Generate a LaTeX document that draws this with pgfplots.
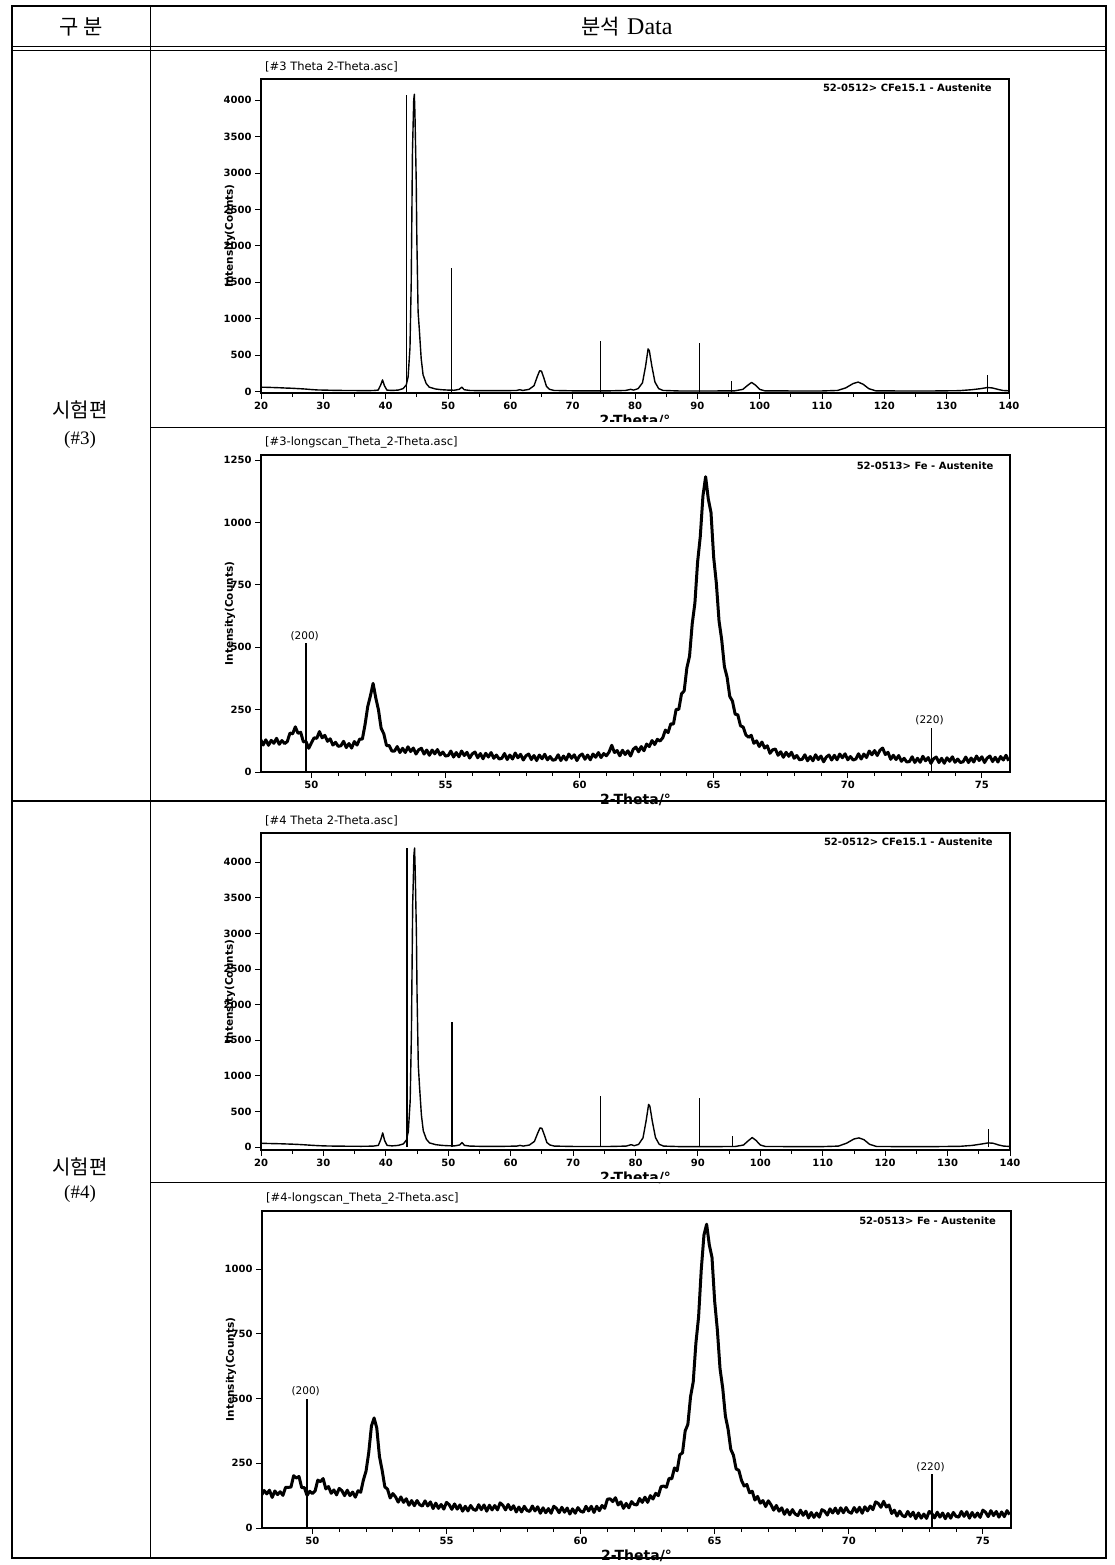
\documentclass[border=0pt]{standalone}
\usepackage{fontspec}
\setmainfont{DejaVu Sans}
\newfontfamily\kr{Noto Sans CJK KR}
\newfontfamily\ser{Liberation Serif}
\usepackage{pgfplots}
\pgfplotsset{compat=1.18}
\pgfplotsset{
  xrd/.style={
    scale only axis,
    anchor=south west,
    axis line style={line width=1.1pt},
    tick align=outside,
    xtick pos=bottom, ytick pos=left,
    major tick length=6pt,
    minor tick length=4pt,
    tick style={black, line width=0.9pt},
    ticklabel style={font=\fontsize{10}{12}\selectfont\bfseries},
    /pgf/number format/assume math mode=true,
    /pgf/number format/1000 sep={},
    xlabel={2-Theta/°},
    ylabel={Intensity(Counts)},
    xlabel style={font=\fontsize{14}{16}\selectfont\bfseries, at={(axis description cs:0.5,0)}, anchor=north, inner sep=0pt, yshift=-22pt},
    ylabel style={font=\fontsize{10.5}{12}\selectfont\bfseries, at={(axis description cs:0,0.5)}, anchor=center, yshift=31pt},
    title style={at={(axis description cs:0,1)}, anchor=south west, inner sep=1pt, xshift=3pt, font=\fontsize{11.5}{13}\selectfont},
  },
  wide/.style={xrd, xmin=20, xmax=140, xtick={20,30,...,140}, minor x tick num=1, ytick={0,500,...,4000}},
  long/.style={xrd, xmin=48.12, xmax=76.05, xtick={50,55,...,75}, minor x tick num=4, ymin=0},
}
\begin{document}
\begin{tikzpicture}
\useasboundingbox (0pt,0pt) rectangle (1114pt,-1565pt);
\fill[white] (0pt,0pt) rectangle (1114pt,-1565pt);

% ---------- Plot 1: #3 wide scan ----------
\begin{axis}[wide, at={(261pt,-393pt)}, width=748pt, height=314pt, ymin=-20, ymax=4290,
  title={[\#3 Theta 2-Theta.asc]}]
\addplot[black, line width=1.4pt, line join=round] coordinates {
(20,60) (21,58) (22,55) (23,52) (24,48) (25,45) (26,40) (27,35) (28,28) (29,22) (30,20) (31,18) (32,16) (33,15) (34,14) (35,14) (36,13) (37,13) (38,14) (38.8,20) (39.2,90) (39.5,160) (39.8,80) (40.2,20) (41,15) (42,20) (42.8,40) (43.3,90) (43.6,200) (43.9,600) (44.1,1500) (44.3,3300) (44.5,4000) (44.6,4080) (44.7,3800) (44.9,2900) (45.0,2100) (45.2,1100) (45.4,850) (45.7,450) (46.0,230) (46.5,110) (47,60) (48,35) (49,25) (50,20) (51,18) (51.8,30) (52.2,60) (52.6,25) (53.5,15) (55,12) (57,12) (59,12) (61,15) (61.5,25) (62,15) (63,30) (63.8,80) (64.3,200) (64.7,285) (65.0,280) (65.4,180) (65.8,70) (66.3,30) (67,15) (70,10) (73,10) (76,10) (78.5,15) (79.3,30) (79.8,20) (80.5,40) (81.2,120) (81.7,350) (82.1,585) (82.3,560) (82.7,350) (83.2,130) (83.8,40) (84.5,15) (87,8) (90,8) (93,8) (96,10) (97.3,30) (98.0,80) (98.7,125) (99.3,90) (100,30) (100.8,10) (105,8) (110,8) (112.5,15) (113.8,50) (115,110) (115.8,130) (116.6,100) (117.5,40) (118.6,10) (122,8) (128,8) (132,12) (134,25) (135.5,40) (136.5,55) (137.3,50) (138.2,30) (139,15) (140,10)};
\addplot[black, ycomb, line width=1.2pt] coordinates {(43.4,4070) (50.6,1700) (74.4,700) (90.3,660) (95.5,140) (136.5,230)};
\node[anchor=north east, inner sep=0pt, font=\fontsize{10}{12}\selectfont\bfseries] at (rel axis cs:0.977,0.985) {52-0512> CFe15.1 - Austenite};
\end{axis}

% ---------- Plot 2: #3 longscan ----------
\begin{axis}[long, at={(261pt,-772pt)}, width=749pt, height=317pt, ymax=1270, ytick={0,250,...,1250},
  title={[\#3-longscan\_Theta\_2-Theta.asc]}]
\addplot[black, line width=3pt, line join=round] table[row sep=\\] {x y\\
48.1 132\\ 48.2 108\\ 48.3 129\\ 48.4 107\\ 48.5 127\\ 48.6 115\\ 48.7 135\\ 48.8 111\\ 48.9 126\\ 49.0 114\\
49.1 122\\ 49.2 156\\ 49.3 153\\ 49.4 181\\ 49.5 155\\ 49.6 159\\ 49.7 121\\ 49.8 122\\ 49.9 95\\ 50.0 117\\
50.1 137\\ 50.2 135\\ 50.3 162\\ 50.4 137\\ 50.5 147\\ 50.6 123\\ 50.7 133\\ 50.8 108\\ 50.9 119\\ 51.0 103\\
51.1 105\\ 51.2 123\\ 51.3 98\\ 51.4 114\\ 51.5 96\\ 51.6 122\\ 51.7 108\\ 51.8 132\\ 51.9 132\\ 52.0 190\\
52.1 262\\ 52.2 305\\ 52.3 355\\ 52.4 297\\ 52.5 249\\ 52.6 175\\ 52.7 153\\ 52.8 106\\ 52.9 106\\ 53.0 84\\
53.1 84\\ 53.2 102\\ 53.3 78\\ 53.4 95\\ 53.5 78\\ 53.6 101\\ 53.7 82\\ 53.8 96\\ 53.9 72\\ 54.0 89\\
54.1 95\\ 54.2 72\\ 54.3 88\\ 54.4 67\\ 54.5 88\\ 54.6 73\\ 54.7 90\\ 54.8 68\\ 54.9 80\\ 55.0 64\\
55.1 66\\ 55.2 84\\ 55.3 60\\ 55.4 78\\ 55.5 61\\ 55.6 84\\ 55.7 66\\ 55.8 79\\ 55.9 56\\ 56.0 73\\
56.1 80\\ 56.2 57\\ 56.3 74\\ 56.4 53\\ 56.5 75\\ 56.6 60\\ 56.7 78\\ 56.8 55\\ 56.9 68\\ 57.0 52\\
57.1 55\\ 57.2 74\\ 57.3 50\\ 57.4 68\\ 57.5 52\\ 57.6 76\\ 57.7 57\\ 57.8 71\\ 57.9 48\\ 58.0 65\\
58.1 72\\ 58.2 50\\ 58.3 66\\ 58.4 46\\ 58.5 68\\ 58.6 53\\ 58.7 71\\ 58.8 49\\ 58.9 62\\ 59.0 47\\
59.1 50\\ 59.2 69\\ 59.3 46\\ 59.4 64\\ 59.5 48\\ 59.6 72\\ 59.7 55\\ 59.8 69\\ 59.9 46\\ 60.0 65\\
60.1 72\\ 60.2 51\\ 60.3 68\\ 60.4 49\\ 60.5 72\\ 60.6 59\\ 60.7 78\\ 60.8 58\\ 60.9 74\\ 61.0 65\\
61.1 80\\ 61.2 107\\ 61.3 78\\ 61.4 86\\ 61.5 65\\ 61.6 87\\ 61.7 70\\ 61.8 85\\ 61.9 64\\ 62.0 91\\
62.1 100\\ 62.2 81\\ 62.3 102\\ 62.4 85\\ 62.5 112\\ 62.6 102\\ 62.7 126\\ 62.8 110\\ 62.9 131\\ 63.0 124\\
63.1 137\\ 63.2 168\\ 63.3 158\\ 63.4 193\\ 63.5 192\\ 63.6 251\\ 63.7 251\\ 63.8 313\\ 63.9 325\\ 64.0 417\\
64.1 464\\ 64.2 594\\ 64.3 677\\ 64.4 841\\ 64.5 943\\ 64.6 1106\\ 64.7 1183\\ 64.8 1093\\ 64.9 1040\\ 65.0 860\\
65.1 756\\ 65.2 605\\ 65.3 529\\ 65.4 422\\ 65.5 380\\ 65.6 303\\ 65.7 284\\ 65.8 232\\ 65.9 229\\ 66.0 185\\
66.1 180\\ 66.2 149\\ 66.3 139\\ 66.4 147\\ 66.5 115\\ 66.6 125\\ 66.7 102\\ 66.8 120\\ 66.9 96\\ 67.0 105\\
67.1 75\\ 67.2 89\\ 67.3 92\\ 67.4 67\\ 67.5 81\\ 67.6 59\\ 67.7 79\\ 67.8 63\\ 67.9 79\\ 68.0 55\\
68.1 66\\ 68.2 49\\ 68.3 51\\ 68.4 69\\ 68.5 45\\ 68.6 62\\ 68.7 45\\ 68.8 69\\ 68.9 50\\ 69.0 64\\
69.1 41\\ 69.2 60\\ 69.3 68\\ 69.4 48\\ 69.5 67\\ 69.6 49\\ 69.7 72\\ 69.8 57\\ 69.9 73\\ 70.0 49\\
70.1 62\\ 70.2 48\\ 70.3 52\\ 70.4 73\\ 70.5 52\\ 70.6 72\\ 70.7 58\\ 70.8 84\\ 70.9 69\\ 71.0 86\\
71.1 66\\ 71.2 87\\ 71.3 96\\ 71.4 70\\ 71.5 79\\ 71.6 51\\ 71.7 67\\ 71.8 50\\ 71.9 66\\ 72.0 43\\
72.1 55\\ 72.2 40\\ 72.3 42\\ 72.4 61\\ 72.5 38\\ 72.6 55\\ 72.7 39\\ 72.8 63\\ 72.9 45\\ 73.0 58\\
73.1 35\\ 73.2 53\\ 73.3 60\\ 73.4 38\\ 73.5 55\\ 73.6 35\\ 73.7 57\\ 73.8 43\\ 73.9 61\\ 74.0 39\\
74.1 52\\ 74.2 38\\ 74.3 41\\ 74.4 60\\ 74.5 38\\ 74.6 56\\ 74.7 40\\ 74.8 64\\ 74.9 46\\ 75.0 61\\
75.1 38\\ 75.2 56\\ 75.3 64\\ 75.4 42\\ 75.5 59\\ 75.6 40\\ 75.7 62\\ 75.8 48\\ 75.9 67\\ 76.0 45\\
};
\addplot[black, ycomb, line width=1.2pt] coordinates {(49.8,518) (73.13,178)};
\node[anchor=south, inner sep=2pt, font=\fontsize{10.5}{12}\selectfont] at (axis cs:49.75,518) {(200)};
\node[anchor=south, inner sep=2pt, font=\fontsize{10.5}{12}\selectfont] at (axis cs:73.05,178) {(220)};
\node[anchor=north east, inner sep=0pt, font=\fontsize{10}{12}\selectfont\bfseries] at (rel axis cs:0.978,0.98) {52-0513> Fe - Austenite};
\end{axis}

% ---------- Plot 3: #4 wide scan ----------
\begin{axis}[wide, at={(261pt,-1150pt)}, width=749pt, height=317pt, ymin=-40, ymax=4410,
  title={[\#4 Theta 2-Theta.asc]}]
\addplot[black, line width=1.4pt, line join=round] coordinates {
(20,55) (21,52) (22,50) (23,48) (24,45) (25,42) (26,38) (27,33) (28,27) (29,22) (30,18) (31,16) (32,15) (33,14) (34,13) (35,13) (36,12) (37,13) (38,15) (38.8,25) (39.2,110) (39.5,200) (39.8,95) (40.2,25) (41,18) (42,25) (42.8,45) (43.3,100) (43.6,220) (43.9,650) (44.1,1600) (44.3,3400) (44.5,4100) (44.6,4200) (44.7,3900) (44.9,3000) (45.0,2150) (45.2,1150) (45.4,850) (45.7,450) (46.0,230) (46.5,110) (47,60) (48,35) (49,25) (50,20) (51,18) (51.8,30) (52.2,65) (52.6,25) (53.5,15) (55,12) (57,12) (59,12) (61,15) (61.5,25) (62,15) (63,30) (63.8,80) (64.3,190) (64.7,270) (65.0,265) (65.4,170) (65.8,65) (66.3,30) (67,15) (70,10) (73,10) (76,10) (78.5,15) (79.3,35) (79.8,20) (80.5,40) (81.2,130) (81.7,370) (82.1,600) (82.3,575) (82.7,360) (83.2,135) (83.8,40) (84.5,15) (87,8) (90,8) (93,8) (96,10) (97.3,30) (98.0,85) (98.7,135) (99.3,95) (100,30) (100.8,10) (105,8) (110,8) (112.5,15) (113.8,55) (115,115) (115.8,130) (116.6,105) (117.5,40) (118.6,10) (122,8) (128,8) (132,12) (134,25) (135.5,45) (136.5,60) (137.3,55) (138.2,30) (139,15) (140,10)};
\addplot[black, ycomb, line width=1.2pt] coordinates {(43.4,4200) (50.6,1760) (74.4,720) (90.3,690) (95.5,150) (136.5,250)};
\node[anchor=north east, inner sep=0pt, font=\fontsize{10}{12}\selectfont\bfseries] at (rel axis cs:0.977,0.985) {52-0512> CFe15.1 - Austenite};
\end{axis}

% ---------- Plot 4: #4 longscan ----------
\begin{axis}[long, at={(262pt,-1528pt)}, width=749pt, height=317pt, ymax=1224, ytick={0,250,...,1000},
  title={[\#4-longscan\_Theta\_2-Theta.asc]}]
\addplot[black, line width=3pt, line join=round] table[row sep=\\] {x y\\
48.1 126\\ 48.2 145\\ 48.3 132\\ 48.4 146\\ 48.5 118\\ 48.6 143\\ 48.7 129\\ 48.8 140\\ 48.9 126\\ 49.0 157\\
49.1 157\\ 49.2 158\\ 49.3 202\\ 49.4 193\\ 49.5 199\\ 49.6 156\\ 49.7 156\\ 49.8 126\\ 49.9 142\\ 50.0 133\\
50.1 143\\ 50.2 185\\ 50.3 179\\ 50.4 191\\ 50.5 151\\ 50.6 160\\ 50.7 134\\ 50.8 147\\ 50.9 128\\ 51.0 153\\
51.1 144\\ 51.2 125\\ 51.3 146\\ 51.4 125\\ 51.5 139\\ 51.6 119\\ 51.7 144\\ 51.8 138\\ 51.9 185\\ 52.0 220\\
52.1 291\\ 52.2 393\\ 52.3 425\\ 52.4 386\\ 52.5 276\\ 52.6 223\\ 52.7 159\\ 52.8 150\\ 52.9 116\\ 53.0 133\\
53.1 120\\ 53.2 100\\ 53.3 120\\ 53.4 99\\ 53.5 113\\ 53.6 88\\ 53.7 106\\ 53.8 86\\ 53.9 106\\ 54.0 90\\
54.1 85\\ 54.2 105\\ 54.3 85\\ 54.4 101\\ 54.5 75\\ 54.6 96\\ 54.7 76\\ 54.8 91\\ 54.9 73\\ 55.0 99\\
55.1 90\\ 55.2 72\\ 55.3 93\\ 55.4 73\\ 55.5 89\\ 55.6 65\\ 55.7 84\\ 55.8 66\\ 55.9 87\\ 56.0 72\\
56.1 68\\ 56.2 90\\ 56.3 71\\ 56.4 89\\ 56.5 65\\ 56.6 88\\ 56.7 70\\ 56.8 87\\ 56.9 70\\ 57.0 97\\
57.1 88\\ 57.2 70\\ 57.3 91\\ 57.4 71\\ 57.5 86\\ 57.6 62\\ 57.7 81\\ 57.8 62\\ 57.9 84\\ 58.0 68\\
58.1 64\\ 58.2 85\\ 58.3 66\\ 58.4 82\\ 58.5 57\\ 58.6 78\\ 58.7 59\\ 58.8 75\\ 58.9 57\\ 59.0 84\\
59.1 76\\ 59.2 59\\ 59.3 80\\ 59.4 61\\ 59.5 77\\ 59.6 54\\ 59.7 74\\ 59.8 57\\ 59.9 79\\ 60.0 65\\
60.1 61\\ 60.2 84\\ 60.3 66\\ 60.4 84\\ 60.5 60\\ 60.6 84\\ 60.7 67\\ 60.8 87\\ 60.9 76\\ 61.0 111\\
61.1 113\\ 61.2 102\\ 61.3 117\\ 61.4 89\\ 61.5 101\\ 61.6 76\\ 61.7 95\\ 61.8 78\\ 61.9 102\\ 62.0 91\\
62.1 89\\ 62.2 114\\ 62.3 99\\ 62.4 119\\ 62.5 99\\ 62.6 125\\ 62.7 112\\ 62.8 134\\ 62.9 125\\ 63.0 160\\
63.1 162\\ 63.2 157\\ 63.3 192\\ 63.4 190\\ 63.5 232\\ 63.6 221\\ 63.7 283\\ 63.8 290\\ 63.9 375\\ 64.0 400\\
64.1 507\\ 64.2 564\\ 64.3 714\\ 64.4 815\\ 64.5 998\\ 64.6 1131\\ 64.7 1173\\ 64.8 1093\\ 64.9 1045\\ 65.0 875\\
65.1 765\\ 65.2 615\\ 65.3 540\\ 65.4 432\\ 65.5 382\\ 65.6 304\\ 65.7 281\\ 65.8 228\\ 65.9 223\\ 66.0 184\\
66.1 162\\ 66.2 168\\ 66.3 136\\ 66.4 142\\ 66.5 108\\ 66.6 122\\ 66.7 96\\ 66.8 106\\ 66.9 83\\ 67.0 105\\
67.1 90\\ 67.2 69\\ 67.3 87\\ 67.4 65\\ 67.5 78\\ 67.6 53\\ 67.7 71\\ 67.8 51\\ 67.9 71\\ 68.0 54\\
68.1 48\\ 68.2 69\\ 68.3 49\\ 68.4 65\\ 68.5 39\\ 68.6 60\\ 68.7 41\\ 68.8 58\\ 68.9 42\\ 69.0 71\\
69.1 65\\ 69.2 50\\ 69.3 74\\ 69.4 58\\ 69.5 77\\ 69.6 56\\ 69.7 78\\ 69.8 59\\ 69.9 79\\ 70.0 62\\
70.1 57\\ 70.2 79\\ 70.3 61\\ 70.4 80\\ 70.5 57\\ 70.6 82\\ 70.7 66\\ 70.8 85\\ 70.9 71\\ 71.0 101\\
71.1 95\\ 71.2 80\\ 71.3 103\\ 71.4 81\\ 71.5 89\\ 71.6 56\\ 71.7 69\\ 71.8 46\\ 71.9 65\\ 72.0 48\\
72.1 43\\ 72.2 64\\ 72.3 45\\ 72.4 61\\ 72.5 36\\ 72.6 58\\ 72.7 38\\ 72.8 54\\ 72.9 37\\ 73.0 64\\
73.1 56\\ 73.2 39\\ 73.3 61\\ 73.4 42\\ 73.5 58\\ 73.6 36\\ 73.7 56\\ 73.8 38\\ 73.9 60\\ 74.0 45\\
74.1 42\\ 74.2 64\\ 74.3 45\\ 74.4 63\\ 74.5 38\\ 74.6 60\\ 74.7 42\\ 74.8 58\\ 74.9 41\\ 75.0 69\\
75.1 61\\ 75.2 44\\ 75.3 67\\ 75.4 48\\ 75.5 64\\ 75.6 42\\ 75.7 62\\ 75.8 44\\ 75.9 67\\ 76.0 52\\
};
\addplot[black, ycomb, line width=1.2pt] coordinates {(49.8,500) (73.1,208)};
\node[anchor=south, inner sep=2pt, font=\fontsize{10.5}{12}\selectfont] at (axis cs:49.75,500) {(200)};
\node[anchor=south, inner sep=2pt, font=\fontsize{10.5}{12}\selectfont] at (axis cs:73.05,208) {(220)};
\node[anchor=north east, inner sep=0pt, font=\fontsize{10}{12}\selectfont\bfseries] at (rel axis cs:0.98,0.983) {52-0513> Fe - Austenite};
\end{axis}

% ---------- table ----------
\begin{scope}[x=1pt, y=-1pt]
\fill[white] (152,422) rectangle (1104,426.5);
\fill[white] (152,1179) rectangle (1104,1181.5);
\draw[line width=2.5pt] (12,6) rectangle (1106,1558);
\draw[line width=0.9pt] (12,46.5) -- (1106,46.5);
\draw[line width=0.9pt] (12,50.5) -- (1106,50.5);
\draw[line width=1pt] (150,6) -- (150,1558);
\draw[line width=2.5pt] (12,801) -- (1106,801);
\draw[line width=1pt] (150,427) -- (1106,427);
\draw[line width=1pt] (150,1182) -- (1106,1182);
\node[font=\kr\fontsize{21}{24}\selectfont] at (81,27) {구 분};
\node at (627,27) {{\kr\fontsize{21}{24}\selectfont 분석}\hspace{7pt}{\ser\fontsize{24}{26}\selectfont Data}};
\node[font=\kr\fontsize{20}{24}\selectfont] at (80,410) {시험편};
\node[font=\ser\fontsize{19}{22}\selectfont] at (80,440) {(\#3)};
\node[font=\kr\fontsize{20}{24}\selectfont] at (80,1167) {시험편};
\node[font=\ser\fontsize{19}{22}\selectfont] at (80,1194) {(\#4)};
\end{scope}
\end{tikzpicture}
\end{document}
